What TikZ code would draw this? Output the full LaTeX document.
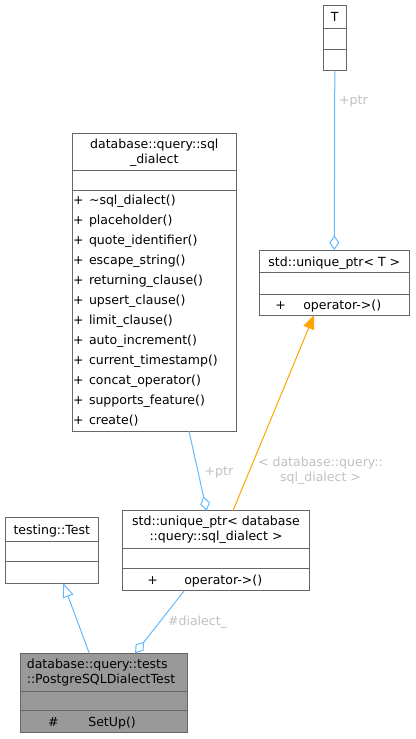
\documentclass[tikz,border=0pt]{standalone}
\usepackage{fontspec}
\setmainfont{DejaVu Sans}
\usetikzlibrary{arrows.meta,calc,fit}
\definecolor{boxline}{HTML}{666666}
\definecolor{edgeblue}{HTML}{63B8FF}
\definecolor{edgeorange}{HTML}{FFA500}
\definecolor{lblgrey}{HTML}{C0C0C0}
\definecolor{hifill}{HTML}{999999}
\begin{document}
\begin{tikzpicture}[x=0.75pt,y=-0.75pt,
  every node/.style={font=\fontsize{9.4}{11}\selectfont, inner sep=0pt, outer sep=0pt},
  box/.style={draw=boxline, line width=0.75pt, fill=white},
  hibox/.style={box, fill=hifill},
  divider/.style={draw=boxline, line width=0.75pt},
  txt/.style={text height=6.8pt, text depth=0pt},
  title/.style={txt, align=center},
  mtitle/.style={align=center},
  member/.style={txt, anchor=west},
  vis/.style={txt, anchor=center},
  lbl/.style={txt, text=lblgrey, align=center},
  mlbl/.style={text=lblgrey, align=center},
  blueedge/.style={draw=edgeblue, line width=0.75pt},
  agg/.style={blueedge, -{Diamond[open, length=11pt, width=7.5pt]}},
  inh/.style={blueedge, -{Triangle[open, length=10.5pt, width=8.5pt]}},
  tmpl/.style={draw=edgeorange, line width=0.75pt, -{Triangle[length=10.5pt, width=8.5pt, fill=edgeorange]}},
]
\useasboundingbox (0,0) rectangle (415,739);

% ---- T ----
\node[box, fit={(323.3,5) (346.3,70.7)}] (T) {};
\draw[divider] (T.west |- 0,28.3) -- (T.east |- 0,28.3);
\draw[divider] (T.west |- 0,49) -- (T.east |- 0,49);
\node[title] (Tt) at (334.8,17) {T};

% ---- std::unique_ptr< T > ----
\node[box, fit={(259.3,250) (409.3,315)}] (upT) {};
\draw[divider] (upT.west |- 0,272.7) -- (upT.east |- 0,272.7);
\draw[divider] (upT.west |- 0,294) -- (upT.east |- 0,294);
\node[title] (upTt) at (334.3,262) {std::unique\_ptr< T >};
\node[vis] (upTv) at (280.7,304.5) {+};
\node[member] (upTm) at (303.3,304.5) {operator->()};

% ---- database::query::sql_dialect ----
\node[box, fit={(72.7,133) (236,431)}] (sqld) {};
\draw[divider] (sqld.west |- 0,170) -- (sqld.east |- 0,170);
\draw[divider] (sqld.west |- 0,190) -- (sqld.east |- 0,190);
\node[mtitle] (sqldt) at (154.3,153) {database::query::sql\\\_dialect};
\foreach \m [count=\i from 0] in {\textasciitilde sql\_dialect(), placeholder(), quote\_identifier(), escape\_string(), returning\_clause(), upsert\_clause(), limit\_clause(), auto\_increment(), current\_timestamp(), concat\_operator(), supports\_feature(), create()}{
  \node[vis] (sqldv\i) at (78.3,{200+20*\i}) {+};
  \node[member] (sqldm\i) at (89,{200+20*\i}) {\m};
}

% ---- testing::Test ----
\node[box, fit={(5,517.7) (98.7,583.3)}] (test) {};
\draw[divider] (test.west |- 0,541.3) -- (test.east |- 0,541.3);
\draw[divider] (test.west |- 0,561.7) -- (test.east |- 0,561.7);
\node[title] (testt) at (51.8,530) {testing::Test};

% ---- std::unique_ptr< database::query::sql_dialect > ----
\node[box, fit={(122.7,510.7) (309.3,590.7)}] (upS) {};
\draw[divider] (upS.west |- 0,548.3) -- (upS.east |- 0,548.3);
\draw[divider] (upS.west |- 0,568.3) -- (upS.east |- 0,568.3);
\node[mtitle] (upSt) at (216,530) {std::unique\_ptr< database\\::query::sql\_dialect >};
\node[vis] (upSv) at (152.7,579.5) {+};
\node[member] (upSm) at (184.3,579.5) {operator->()};

% ---- database::query::tests::PostgreSQLDialectTest ----
\node[hibox, fit={(20,653.3) (187.7,732.7)}] (pg) {};
\draw[divider] (pg.west |- 0,691) -- (pg.east |- 0,691);
\draw[divider] (pg.west |- 0,710.7) -- (pg.east |- 0,710.7);
\node[align=left, anchor=west] (pgt) at (26.8,672.5) {database::query::tests\\::PostgreSQLDialectTest};
\node[vis] (pgv) at (53.3,721.7) {\#};
\node[member] (pgm) at (88.3,721.7) {SetUp()};

% ---- connectors ----
\draw[agg] (T.south) -- (upT.north);
\node[lbl] (l1) at (353.5,100) {+ptr};

\draw[agg] ($(sqld.south west)!0.712!(sqld.south east)$) -- ($(upS.north west)!0.45!(upS.north east)$);
\node[lbl] (l2) at (219,470.5) {+ptr};

\draw[tmpl] ($(upS.north west)!0.591!(upS.north east)$) -- ($(upT.south west)!0.365!(upT.south east)$);
\node[mlbl] (l3) at (320.5,471) {< database::query::\\sql\_dialect >};

\draw[inh] ($(pg.north west)!0.413!(pg.north east)$) -- ($(test.south west)!0.622!(test.south east)$);

\draw[agg] ($(upS.south west)!0.33!(upS.south east)$) -- ($(pg.north west)!0.686!(pg.north east)$);
\node[lbl] (l4) at (197.5,620.5) {\#dialect\_};
\end{tikzpicture}
\end{document}
